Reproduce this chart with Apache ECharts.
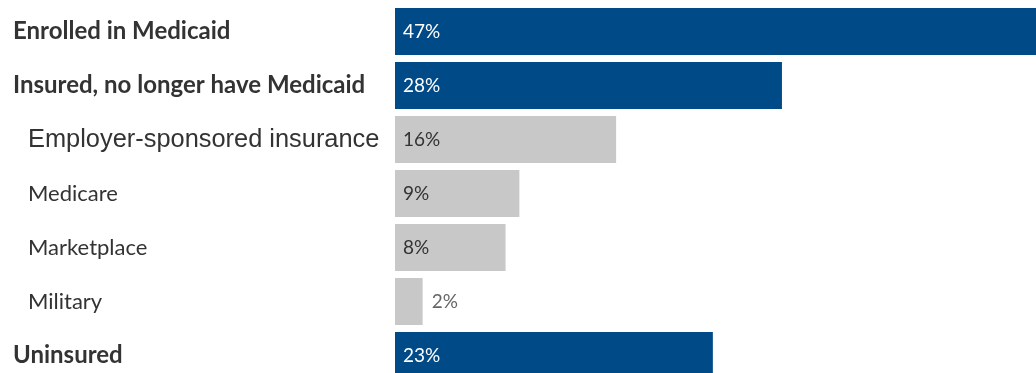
<!DOCTYPE html>
<html>
<head>
<meta charset="utf-8">
<script src="https://cdn.jsdelivr.net/npm/echarts@6/dist/echarts.min.js"></script>
<style>html,body{margin:0;padding:0;background:#fff}#c{width:1036px;height:373px}</style>
</head>
<body>
<div id="c"></div>
<script>
const categories = ["Enrolled in Medicaid","Insured, no longer have Medicaid","Employer-sponsored insurance","Medicare","Marketplace","Military","Uninsured"];
const values = [47, 28, 16, 9, 8, 2, 23];
const levels = ["main","main","sub","sub","sub","sub","main"];

const BLUE = '#004B87', GREY = '#C8C8C8';
const chart = echarts.init(document.getElementById('c'), null, {renderer:'canvas'});
const data = values.map((v,i)=>{
  const main = levels[i]==='main';
  const small = v < 5;
  return {
    value: v,
    itemStyle: {color: main ? BLUE : GREY},
    label: {
      position: small ? 'right' : 'insideLeft',
      distance: small ? 9 : 8,
      color: main ? '#ffffff' : (small ? '#666666' : '#333333')
    }
  };
});
chart.setOption({
  animation:false,
  grid:{left:395, top:4.5, width:691, height:378, outerBoundsMode:'none', containLabel:false},
  xAxis:{type:'value', min:0, max:50, show:false},
  yAxis:{type:'category', inverse:true, data:categories,
    axisLine:{show:false}, axisTick:{show:false}, splitLine:{show:false},
    axisLabel:{
      align:'left', margin:382,
      formatter:(v,i)=> levels[i]==='main' ? '{b|'+v+'}' : (v==='Employer-sponsored insurance' ? '{h|'+v+'}' : '{s|'+v+'}'),
      rich:{
        b:{fontFamily:'Lato', fontWeight:'bold', fontSize:24, color:'#333333'},
        s:{fontFamily:'Lato', fontSize:22, color:'#333333', padding:[0,0,0,15]},
        h:{fontFamily:'Liberation Sans', fontSize:25.4, color:'#333333', padding:[0,0,0,15]}
      }
    }
  },
  series:[{
    type:'bar', data:data, barWidth:47, clip:false,
    label:{show:true, formatter:'{c}%', fontFamily:'Lato', fontSize:19}
  }]
});
</script>
</body>
</html>
